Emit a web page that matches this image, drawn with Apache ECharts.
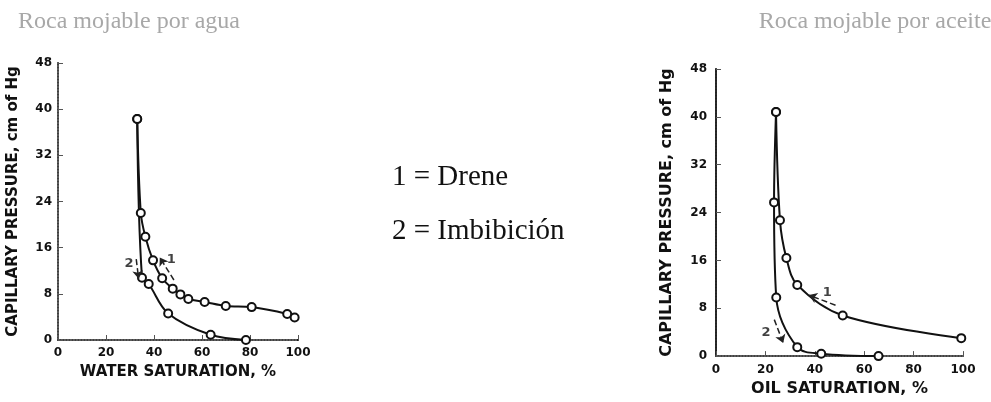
<!DOCTYPE html>
<html>
<head>
<meta charset="utf-8">
<script src="https://cdn.jsdelivr.net/npm/echarts@6/dist/echarts.min.js"></script>
<style>
  html, body { margin: 0; padding: 0; background: #ffffff; }
  #chart { width: 991px; height: 402px; }
</style>
</head>
<body>
<div id="chart"></div>
<script>
// Water-wet rock: drainage (1) and imbibition (2) capillary pressure curves
const waterDrainSw = [33.0, 34.5, 36.4, 39.6, 43.4, 47.8, 51.0, 54.3, 61.1, 69.9, 80.7, 95.5, 98.6];
const waterDrainPc = [38.3, 22.0, 17.9, 13.8, 10.7, 8.9, 7.9, 7.1, 6.6, 5.9, 5.7, 4.5, 3.9];
const waterImbSw = [33.0, 35.0, 37.8, 45.9, 63.6, 78.3];
const waterImbPc = [38.3, 10.8, 9.7, 4.6, 0.9, 0.0];

// Oil-wet rock: drainage (1) and imbibition (2) capillary pressure curves
const oilDrainSo = [24.3, 25.9, 28.5, 32.9, 51.3, 99.3];
const oilDrainPc = [40.8, 22.7, 16.4, 11.9, 6.8, 3.0];
const oilImbSo = [24.3, 23.5, 24.4, 32.9, 42.6, 65.8];
const oilImbPc = [40.8, 25.7, 9.8, 1.5, 0.4, 0.0];

// Axis ticks
const satTicks = { min: 0, max: 100, interval: 20 };
const pcTicks = { min: 0, max: 48, interval: 8 };

// Titles and text
const panelTitles = ['Roca mojable por agua', 'Roca mojable por aceite'];
const xNames = ['WATER SATURATION, %', 'OIL SATURATION, %'];
const yName = 'CAPILLARY PRESSURE, cm of Hg';
const legendLines = ['1 = Drene', '2 = Imbibición'];

// Curve annotation arrows [from, to] and their number labels
const waterArrows = [[[48.3, 10.4], [42.4, 14.3]], [[32.6, 14.0], [33.6, 10.6]]];
const waterArrowLabels = [[47.2, 13.9, '1'], [29.6, 13.3, '2']];
const oilArrows = [[[48.4, 8.5], [37.6, 10.2]], [[23.6, 6.1], [27.2, 2.2]]];
const oilArrowLabels = [[45.0, 10.6, '1'], [20.3, 3.9, '2']];

const zip = (xs, ys) => xs.map((x, i) => [x, ys[i]]);

const tickFont = { fontFamily: 'DejaVu Sans', fontWeight: 'bold', fontSize: 12, color: '#111' };
const nameFont = size => ({ fontFamily: 'DejaVu Sans', fontWeight: 'bold', fontSize: size, color: '#111' });

function bottomAxis(gi, name, gap, margin, size) {
  return {
    gridIndex: gi, type: 'value', position: 'bottom',
    min: satTicks.min, max: satTicks.max, interval: satTicks.interval,
    name: name, nameLocation: 'middle', nameGap: gap, nameTextStyle: nameFont(size),
    axisLine: { lineStyle: { color: '#111', width: 2 } },
    axisTick: { inside: true, length: 5, lineStyle: { color: '#555', width: 1 } },
    axisLabel: Object.assign({ margin: margin }, tickFont),
    splitLine: { show: false }
  };
}
function topAxis(gi) {
  return {
    gridIndex: gi, type: 'value', position: 'top', min: 0, max: 100,
    axisLine: { lineStyle: { color: '#777', width: 1.5, type: 'dotted' } },
    axisTick: { show: false }, axisLabel: { show: false }, splitLine: { show: false }
  };
}
function leftAxis(gi, gap, margin, size) {
  return {
    gridIndex: gi, type: 'value', position: 'left',
    min: pcTicks.min, max: pcTicks.max, interval: pcTicks.interval,
    name: yName, nameLocation: 'middle', nameGap: gap, nameRotate: 90, nameTextStyle: nameFont(size),
    axisLine: { lineStyle: { color: '#111', width: 2 } },
    axisTick: { inside: true, length: 5, lineStyle: { color: '#555', width: 1 } },
    axisLabel: Object.assign({ margin: margin }, tickFont),
    splitLine: { show: false }
  };
}
function rightAxis(gi, color) {
  return {
    gridIndex: gi, type: 'value', position: 'right', min: 0, max: 48,
    axisLine: { lineStyle: { color: color, width: 1.5, type: 'dotted' } },
    axisTick: { show: false }, axisLabel: { show: false }, splitLine: { show: false }
  };
}

function curve(xi, yi, data) {
  return {
    type: 'line', xAxisIndex: xi, yAxisIndex: yi, data: data,
    smooth: 0.35, symbol: 'emptyCircle', symbolSize: 8,
    lineStyle: { color: '#111', width: 2 },
    itemStyle: { color: '#111', borderColor: '#111', borderWidth: 1.6 },
    z: 3
  };
}
function arrows(xi, yi, list, labels) {
  return {
    type: 'scatter', xAxisIndex: xi, yAxisIndex: yi,
    data: labels.map(l => ({ value: [l[0], l[1]], name: l[2] })),
    symbolSize: 0,
    label: { show: true, position: 'inside', formatter: p => p.name,
             fontFamily: 'DejaVu Sans', fontWeight: 'bold', fontSize: 13, color: '#111' },
    markLine: {
      silent: true, symbol: ['none', 'arrow'], symbolSize: 8, label: { show: false },
      lineStyle: { color: '#222', width: 1.5, type: 'dashed' },
      data: list.map(a => [{ coord: a[0] }, { coord: a[1] }])
    }
  };
}

const titleStyle = { fontFamily: 'Liberation Serif', fontWeight: 'normal', fontSize: 24, color: '#a8a8a8' };

const chart = echarts.init(document.getElementById('chart'), null, { renderer: 'canvas' });
chart.setOption({
  animation: false,
  backgroundColor: '#ffffff',
  title: [
    { text: panelTitles[0], left: 124, top: 5, textAlign: 'center', textStyle: titleStyle },
    { text: panelTitles[1], left: 870, top: 5, textAlign: 'center', textStyle: titleStyle }
  ],
  graphic: [
    { type: 'text', left: 392, top: 163,
      style: { text: legendLines[0], font: '29px "Liberation Serif"', fill: '#111' } },
    { type: 'text', left: 392, top: 217,
      style: { text: legendLines[1], font: '29px "Liberation Serif"', fill: '#111' } }
  ],
  grid: [
    { left: 58, top: 63, width: 240, height: 277 },
    { left: 716, top: 69, width: 247, height: 289 }
  ],
  xAxis: [
    bottomAxis(0, xNames[0], 25, 7, 15), topAxis(0),
    bottomAxis(1, xNames[1], 22, 8, 16), topAxis(1)
  ],
  yAxis: [
    leftAxis(0, 37, 6, 15), rightAxis(0, '#777'),
    leftAxis(1, 41, 9, 16), rightAxis(1, '#333')
  ],
  series: [
    curve(0, 0, zip(waterDrainSw, waterDrainPc)),
    curve(0, 0, zip(waterImbSw, waterImbPc)),
    arrows(0, 0, waterArrows, waterArrowLabels),
    curve(2, 2, zip(oilDrainSo, oilDrainPc)),
    curve(2, 2, zip(oilImbSo, oilImbPc)),
    arrows(2, 2, oilArrows, oilArrowLabels)
  ]
});
</script>
</body>
</html>
